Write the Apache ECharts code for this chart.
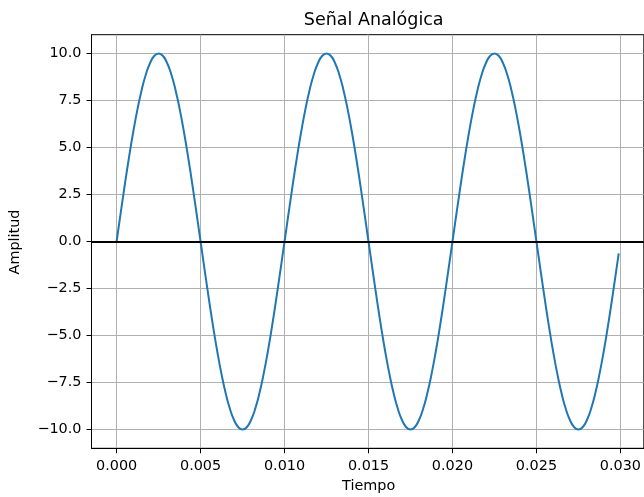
<!DOCTYPE html>
<html>
<head>
<meta charset="utf-8">
<script src="https://cdn.jsdelivr.net/npm/echarts@6/dist/echarts.min.js"></script>
<style>
html,body{margin:0;padding:0;background:#fff;}
#chart{width:644px;height:497px;}
</style>
</head>
<body>
<div id="chart"></div>
<script>
// Data
const tiempo = [
  0.00000, 0.00025, 0.00050, 0.00075, 0.00100, 0.00125, 0.00150, 0.00175, 0.00200, 0.00225,
  0.00250, 0.00275, 0.00300, 0.00325, 0.00350, 0.00375, 0.00400, 0.00425, 0.00450, 0.00475,
  0.00500, 0.00525, 0.00550, 0.00575, 0.00600, 0.00625, 0.00650, 0.00675, 0.00700, 0.00725,
  0.00750, 0.00775, 0.00800, 0.00825, 0.00850, 0.00875, 0.00900, 0.00925, 0.00950, 0.00975,
  0.01000, 0.01025, 0.01050, 0.01075, 0.01100, 0.01125, 0.01150, 0.01175, 0.01200, 0.01225,
  0.01250, 0.01275, 0.01300, 0.01325, 0.01350, 0.01375, 0.01400, 0.01425, 0.01450, 0.01475,
  0.01500, 0.01525, 0.01550, 0.01575, 0.01600, 0.01625, 0.01650, 0.01675, 0.01700, 0.01725,
  0.01750, 0.01775, 0.01800, 0.01825, 0.01850, 0.01875, 0.01900, 0.01925, 0.01950, 0.01975,
  0.02000, 0.02025, 0.02050, 0.02075, 0.02100, 0.02125, 0.02150, 0.02175, 0.02200, 0.02225,
  0.02250, 0.02275, 0.02300, 0.02325, 0.02350, 0.02375, 0.02400, 0.02425, 0.02450, 0.02475,
  0.02500, 0.02525, 0.02550, 0.02575, 0.02600, 0.02625, 0.02650, 0.02675, 0.02700, 0.02725,
  0.02750, 0.02775, 0.02800, 0.02825, 0.02850, 0.02875, 0.02900, 0.02925, 0.02950, 0.02975,
  0.02990
];
const amplitud = [
  0, 1.56, 3.09, 4.54, 5.88, 7.07, 8.09, 8.91, 9.51, 9.88,
  10.00, 9.88, 9.51, 8.91, 8.09, 7.07, 5.88, 4.54, 3.09, 1.56,
  0, -1.56, -3.09, -4.54, -5.88, -7.07, -8.09, -8.91, -9.51, -9.88,
  -10.00, -9.88, -9.51, -8.91, -8.09, -7.07, -5.88, -4.54, -3.09, -1.56,
  0, 1.56, 3.09, 4.54, 5.88, 7.07, 8.09, 8.91, 9.51, 9.88,
  10.00, 9.88, 9.51, 8.91, 8.09, 7.07, 5.88, 4.54, 3.09, 1.56,
  0, -1.56, -3.09, -4.54, -5.88, -7.07, -8.09, -8.91, -9.51, -9.88,
  -10.00, -9.88, -9.51, -8.91, -8.09, -7.07, -5.88, -4.54, -3.09, -1.56,
  0, 1.56, 3.09, 4.54, 5.88, 7.07, 8.09, 8.91, 9.51, 9.88,
  10.00, 9.88, 9.51, 8.91, 8.09, 7.07, 5.88, 4.54, 3.09, 1.56,
  0, -1.56, -3.09, -4.54, -5.88, -7.07, -8.09, -8.91, -9.51, -9.88,
  -10.00, -9.88, -9.51, -8.91, -8.09, -7.07, -5.88, -4.54, -3.09, -1.56,
  -0.63
];
const xTicks = [0.000, 0.005, 0.010, 0.015, 0.020, 0.025, 0.030];
const yTicks = [-10.0, -7.5, -5.0, -2.5, 0.0, 2.5, 5.0, 7.5, 10.0];
const xRange = [-0.001495, 0.031395];
const yRange = [-11, 11];
const titulo = 'Señal Analógica';
const etiquetaX = 'Tiempo';
const etiquetaY = 'Amplitud';

const FONT = 'DejaVu Sans';
const chart = echarts.init(document.getElementById('chart'), null, {renderer: 'canvas'});
const serie = tiempo.map((t, i) => [t, amplitud[i]]);

const option = {
  animation: false,
  backgroundColor: '#ffffff',
  title: {
    text: titulo,
    left: 368.7, top: 6,
    textAlign: 'center',
    textStyle: {fontFamily: FONT, fontSize: 17.5, fontWeight: 'normal', color: '#000'}
  },
  graphic: [
    {type: 'text', x: 15, y: 242, rotation: Math.PI / 2,
     style: {text: etiquetaY, font: '14.4px "DejaVu Sans"', fill: '#000', textAlign: 'center', textVerticalAlign: 'middle'}},
    {type: 'text', x: 368.7, y: 486.5,
     style: {text: etiquetaX, font: '14.4px "DejaVu Sans"', fill: '#000', textAlign: 'center', textVerticalAlign: 'middle'}}
  ],
  grid: {
    left: 91.5, right: -2, top: 34.7, bottom: 48.7,
    show: true, borderColor: '#000', borderWidth: 1, backgroundColor: 'transparent',
    containLabel: false
  },
  xAxis: {
    type: 'value',
    min: xRange[0], max: xRange[1],
    minInterval: 0.005, maxInterval: 0.005, splitNumber: 6,
    axisLine: {show: true, onZero: false, lineStyle: {color: '#000', width: 1}},
    axisTick: {show: true, length: 5, lineStyle: {color: '#000', width: 1}, customValues: xTicks},
    axisLabel: {
      customValues: xTicks,
      margin: 11, color: '#000', fontFamily: FONT, fontSize: 14.4,
      formatter: v => v.toFixed(3)
    },
    splitLine: {show: true, lineStyle: {color: '#b0b0b0', width: 1}}
  },
  yAxis: {
    type: 'value',
    min: yRange[0], max: yRange[1],
    minInterval: 2.5, maxInterval: 2.5, splitNumber: 9,
    axisLine: {show: true, onZero: false, lineStyle: {color: '#000', width: 1}},
    axisTick: {show: true, length: 5, lineStyle: {color: '#000', width: 1}, customValues: yTicks},
    axisLabel: {
      customValues: yTicks,
      margin: 10, color: '#000', fontFamily: FONT, fontSize: 14.4,
      formatter: v => v.toFixed(1).replace('-', '\u2212')
    },
    splitLine: {show: true, lineStyle: {color: '#b0b0b0', width: 1}}
  },
  series: [
    {
      type: 'line',
      data: serie,
      smooth: true,
      showSymbol: false,
      symbol: 'none',
      lineStyle: {color: '#1f77b4', width: 2},
      silent: true,
      z: 3
    },
    {
      type: 'line',
      data: [],
      silent: true,
      z: 4,
      markLine: {
        silent: true,
        symbol: ['none', 'none'],
        label: {show: false},
        lineStyle: {color: '#000', width: 2, type: 'solid'},
        data: [{yAxis: 0}]
      }
    }
  ]
};
chart.setOption(option);
</script>
</body>
</html>
